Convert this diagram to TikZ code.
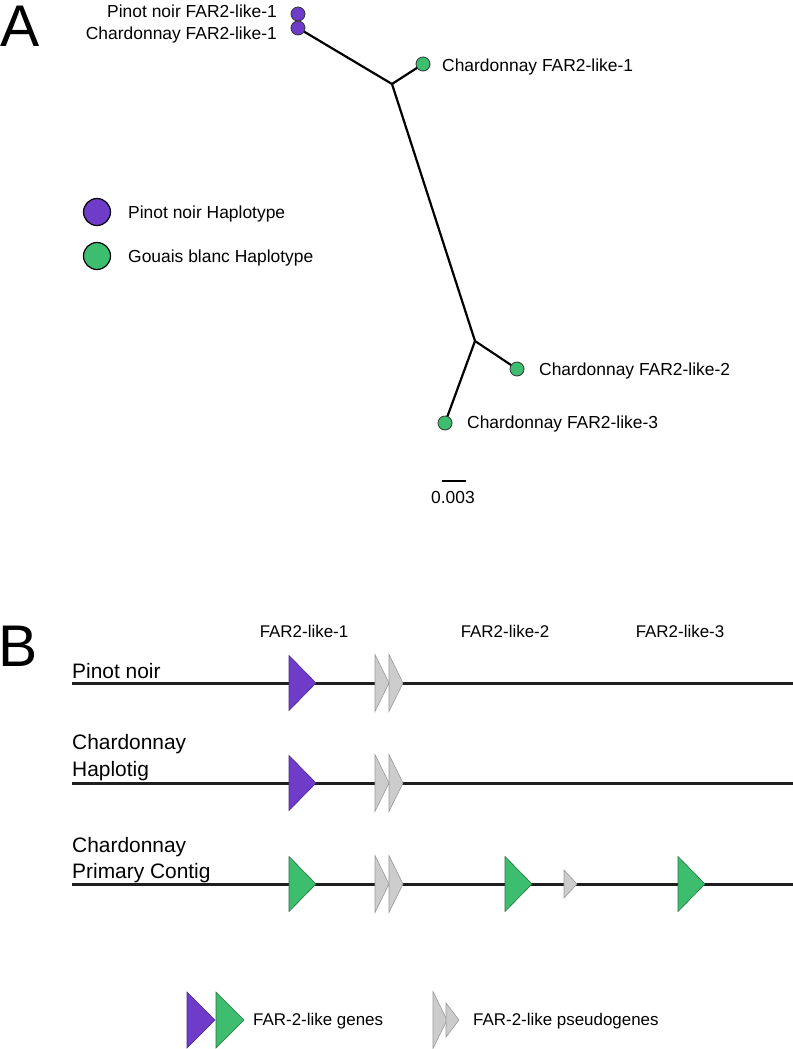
\documentclass[tikz,border=0pt]{standalone}
\usepackage{fontspec}
\setmainfont{Liberation Sans}
\definecolor{pnpurple}{HTML}{6E3CC8}
\definecolor{gbgreen}{HTML}{3DBE6E}
\definecolor{pseudo}{HTML}{CCCCCC}
\definecolor{pseudoedge}{HTML}{9A9A9A}
\definecolor{linecol}{HTML}{1E1E1E}
\pgfdeclarelayer{background}
\pgfsetlayers{background,main}
\tikzset{
  branch/.style={draw=black, line width=2.2bp},
  tip/.style={circle, draw=black!80, line width=0.8bp, inner sep=0pt, minimum size=14bp},
  legdot/.style={circle, draw=black, line width=1.2bp, inner sep=0pt, minimum size=27bp},
  lab/.style={inner sep=0pt, font=\fontsize{17.5}{20}\selectfont},
  blab/.style={inner sep=0pt, font=\fontsize{17}{20}\selectfont},
  glab/.style={inner sep=0pt, font=\fontsize{21}{25}\selectfont},
  panel/.style={inner sep=0pt, font=\fontsize{59}{62}\selectfont},
  chrom/.style={draw=linecol, line width=3bp},
  genePN/.style={fill=pnpurple, draw=pnpurple!70!black, line width=0.6bp},
  geneGB/.style={fill=gbgreen, draw=gbgreen!60!black, line width=0.6bp},
  genePS/.style={fill=pseudo, draw=pseudoedge, line width=0.6bp}
}
\newcommand\genetri[5]{\filldraw[#5] ({#1},{#2-#4/2}) -- ({#1+#3},{#2}) -- ({#1},{#2+#4/2}) -- cycle;}
\begin{document}
\begin{tikzpicture}[x=1bp,y=-1bp]
\useasboundingbox (0,0) rectangle (793,1049);
% ---------- Panel A ----------
\node[panel, anchor=base west] (pA) at (0,46) {A};
\coordinate (n1) at (392,84);
\coordinate (n2) at (475,341);
\node[tip, fill=pnpurple] (pn1) at (298,14) {};
\node[tip, fill=pnpurple] (ch1p) at (298,28) {};
\node[tip, fill=gbgreen] (ch1g) at (423,64) {};
\node[tip, fill=gbgreen] (ch2) at (517,369) {};
\node[tip, fill=gbgreen] (ch3) at (445,423) {};
\begin{pgfonlayer}{background}
\draw[branch] (ch1p.center) -- (n1);
\draw[branch] (n1) -- (ch1g.center);
\draw[branch] (n1) -- (n2);
\draw[branch] (n2) -- (ch2.center);
\draw[branch] (n2) -- (ch3.center);
\end{pgfonlayer}
\node[lab, anchor=base east] (lpn1) at (277,17) {Pinot noir FAR2-like-1};
\node[lab, anchor=base east] (lch1p) at (277,39) {Chardonnay FAR2-like-1};
\node[lab, anchor=base west] (lch1g) at (442,71) {Chardonnay FAR2-like-1};
\node[lab, anchor=base west] (lch2) at (539,375) {Chardonnay FAR2-like-2};
\node[lab, anchor=base west] (lch3) at (467,428) {Chardonnay FAR2-like-3};
% scale bar
\coordinate (sb1) at (442,481);
\coordinate (sb2) at (466,481);
\draw[branch] (sb1) -- (sb2);
\node[lab, anchor=base] (sbl) at (453,503) {0.003};
% legend A
\node[legdot, fill=pnpurple] (legpn) at (97,212) {};
\node[legdot, fill=gbgreen] (leggb) at (97,256) {};
\node[lab, anchor=base west] (legpnl) at (128,218) {Pinot noir Haplotype};
\node[lab, anchor=base west] (leggbl) at (128,262) {Gouais blanc Haplotype};
% ---------- Panel B ----------
\node[panel, anchor=base west] (pB) at (-2,666) {B};
\node[blab, anchor=base] (h1) at (304,637) {FAR2-like-1};
\node[blab, anchor=base] (h2) at (505,637) {FAR2-like-2};
\node[blab, anchor=base] (h3) at (680,637) {FAR2-like-3};
% chromosomes
\coordinate (c1a) at (72,683); \coordinate (c1b) at (793,683);
\coordinate (c2a) at (72,783); \coordinate (c2b) at (793,783);
\coordinate (c3a) at (72,884); \coordinate (c3b) at (793,884);
\draw[chrom] (c1a) -- (c1b);
\draw[chrom] (c2a) -- (c2b);
\draw[chrom] (c3a) -- (c3b);
\node[glab, anchor=base west] (l1) at (72,678) {Pinot noir};
\node[glab, anchor=base west] (l2a) at (72,749) {Chardonnay};
\node[glab, anchor=base west] (l2b) at (72,776) {Haplotig};
\node[glab, anchor=base west] (l3a) at (72,852) {Chardonnay};
\node[glab, anchor=base west] (l3b) at (72,878) {Primary Contig};
% genes row 1
\genetri{289}{683}{27}{55}{genePN}
\genetri{375}{683}{14}{57}{genePS}
\genetri{389}{683}{14}{57}{genePS}
% genes row 2
\genetri{289}{783}{27}{55}{genePN}
\genetri{375}{783}{14}{57}{genePS}
\genetri{389}{783}{14}{57}{genePS}
% genes row 3
\genetri{289}{884}{27}{55}{geneGB}
\genetri{375}{884}{14}{57}{genePS}
\genetri{389}{884}{14}{57}{genePS}
\genetri{505}{884}{27}{55}{geneGB}
\genetri{564}{884}{13}{28}{genePS}
\genetri{678}{884}{27}{55}{geneGB}
% legend B
\genetri{187}{1020}{28}{56}{genePN}
\genetri{216}{1020}{28}{56}{geneGB}
\genetri{433}{1020}{14}{57}{genePS}
\genetri{446}{1020}{13}{34}{genePS}
\node[blab, anchor=west] (lg1) at (253,1021) {FAR-2-like genes};
\node[blab, anchor=west] (lg2) at (473,1021) {FAR-2-like pseudogenes};
\end{tikzpicture}
\end{document}
